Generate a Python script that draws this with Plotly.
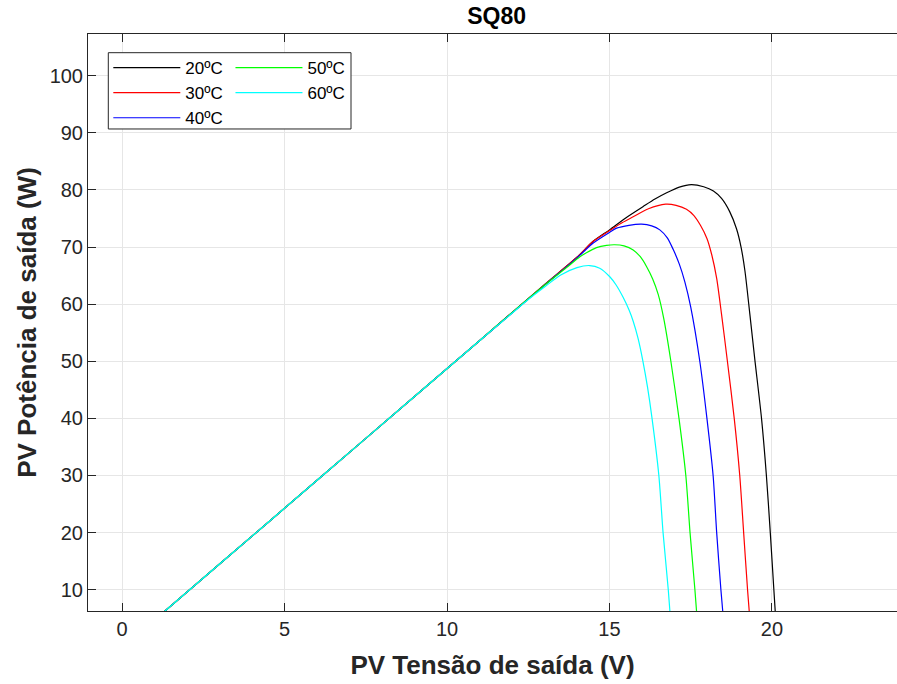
import plotly.graph_objects as go

# ---------------- data ----------------
names = ["20ºC", "30ºC", "40ºC", "50ºC", "60ºC"]
colors = ["#000000", "#ff0000", "#0000ff", "#00ff00", "#00ffff"]
legend_group = ["legend", "legend", "legend", "legend2", "legend2"]

v20 = [1.0, 3.0, 6.0, 9.0, 11.0, 13.0, 14.0, 14.5, 15.0, 15.5, 16.04, 16.4, 16.76, 17.15, 17.52,
       17.9, 18.2, 18.45, 18.7, 18.91, 19.05, 19.17, 19.32, 19.47, 19.68, 19.83, 19.95, 20.06, 20.16]
p20 = [4.71, 14.49, 29.16, 43.83, 53.6, 63.4, 68.2, 71.0, 73.0, 75.1, 77.1, 78.4, 79.5, 80.5, 80.93,
       80.55, 79.8, 78.5, 76.2, 73.2, 70.0, 65.8, 58.3, 50.5, 40.0, 30.0, 20.0, 10.0, 1.0]

v30 = [1.0, 3.0, 6.0, 9.0, 11.0, 13.0, 14.0, 14.5, 15.01, 15.4, 15.73, 16.2, 16.73, 17.05, 17.37,
       17.6, 17.8, 18.0, 18.15, 18.3, 18.45, 18.63, 18.84, 19.01, 19.13, 19.25, 19.36]
p30 = [4.71, 14.49, 29.16, 43.83, 53.6, 63.4, 68.2, 71.0, 72.9, 74.3, 75.3, 76.7, 77.5, 77.3, 76.6,
       75.5, 73.8, 71.5, 68.6, 64.5, 58.2, 50.0, 40.0, 30.0, 20.0, 10.0, 2.0]

v40 = [1.0, 3.0, 6.0, 9.0, 11.0, 13.0, 14.0, 14.5, 15.01, 15.22, 15.6, 15.99, 16.3, 16.55, 16.78,
       16.96, 17.15, 17.32, 17.5, 17.78, 18.0, 18.19, 18.3, 18.43, 18.55]
p40 = [4.71, 14.49, 29.16, 43.83, 53.6, 63.3, 68.1, 70.7, 72.6, 73.3, 73.8, 74.0, 73.7, 73.0, 71.6,
       69.6, 67.0, 63.9, 59.5, 50.0, 40.0, 30.0, 20.0, 10.0, 2.0]

v50 = [1.0, 3.0, 6.0, 9.0, 11.0, 12.0, 13.0, 13.68, 14.09, 14.29, 14.6, 14.91, 15.16, 15.45, 15.73,
       15.95, 16.14, 16.33, 16.5, 16.67, 16.89, 17.14, 17.35, 17.48, 17.63, 17.75]
p50 = [4.71, 14.49, 29.16, 43.83, 53.6, 58.5, 63.3, 66.4, 68.3, 69.0, 69.9, 70.3, 70.4, 70.2, 69.5,
       68.3, 66.6, 64.4, 61.7, 57.5, 50.0, 40.0, 30.0, 20.0, 10.0, 1.0]

v60 = [1.0, 3.0, 6.0, 9.0, 11.0, 12.0, 12.5, 13.0, 13.5, 14.0, 14.39, 14.7, 15.01, 15.2, 15.42,
       15.6, 15.73, 15.88, 16.02, 16.17, 16.31, 16.52, 16.65, 16.81, 16.93]
p60 = [4.71, 14.49, 29.16, 43.83, 53.6, 58.4, 60.8, 63.0, 65.1, 66.4, 66.76, 66.3, 64.8, 63.4, 61.2,
       59.0, 57.0, 54.0, 50.3, 45.5, 40.0, 30.0, 20.0, 10.0, 1.0]

x_ticks = [0, 5, 10, 15, 20]
y_ticks = [10, 20, 30, 40, 50, 60, 70, 80, 90, 100]

title_text = "SQ80"
x_title = "PV Tensão de saída (V)"
y_title = "PV Potência de saída (W)"

# ---------------- figure ----------------
series = [(v20, p20), (v30, p30), (v40, p40), (v50, p50), (v60, p60)]
fig = go.Figure()
for (vx, py), nm, col, lg in zip(series, names, colors, legend_group):
    fig.add_trace(go.Scatter(x=vx, y=py, mode="lines", name=nm, legend=lg,
                             line=dict(color=col, width=1.2, shape="spline", smoothing=0.7)))

axis_col = "#262626"
font_fam = "Liberation Sans, Arial, sans-serif"

leg_common = dict(xanchor="left", yanchor="top", orientation="v", itemwidth=67,
                  bgcolor="rgba(0,0,0,0)", borderwidth=0,
                  font=dict(size=17, color="#000000", family=font_fam))

fig.update_layout(
    width=897, height=684,
    margin=dict(l=88, r=0, t=34, b=73),
    paper_bgcolor="white", plot_bgcolor="white",
    font=dict(family=font_fam, color=axis_col),
    title=dict(text="<b>" + title_text + "</b>", x=0.5536, xanchor="center",
               y=1 - 16 / 684, yanchor="middle", yref="container",
               font=dict(size=23, color="#000000", family=font_fam)),
    showlegend=True,
    legend=dict(x=0.0251, y=0.9723, **leg_common),
    legend2=dict(x=0.1761, y=0.9723, **leg_common),
    shapes=[dict(type="rect", xref="paper", yref="paper",
                 x0=0.0251, x1=0.3251, y0=0.8354, y1=0.9676,
                 line=dict(color=axis_col, width=1), fillcolor="white", layer="above")],
)

fig.update_xaxes(
    range=[-1.05, 23.85], tickvals=x_ticks, ticktext=[str(t) for t in x_ticks],
    showgrid=True, gridcolor="#e6e6e6", gridwidth=1, zeroline=False,
    showline=True, linecolor=axis_col, linewidth=1, mirror="allticks",
    ticks="inside", ticklen=8, tickcolor=axis_col, tickwidth=1,
    tickfont=dict(size=20, color=axis_col, family=font_fam),
    title=dict(text="<b>" + x_title + "</b>", font=dict(size=26, color="#262626", family=font_fam), standoff=16),
)
fig.update_yaxes(
    range=[6.27, 107.3], tickvals=y_ticks, ticktext=[str(t) for t in y_ticks],
    showgrid=True, gridcolor="#e6e6e6", gridwidth=1, zeroline=False,
    showline=True, linecolor=axis_col, linewidth=1, mirror=False,
    ticks="inside", ticklen=8, tickcolor=axis_col, tickwidth=1,
    tickfont=dict(size=20, color=axis_col, family=font_fam),
    title=dict(text="<b>" + y_title + "</b>", font=dict(size=26, color="#262626", family=font_fam), standoff=5),
)

fig.write_html("out.html")
